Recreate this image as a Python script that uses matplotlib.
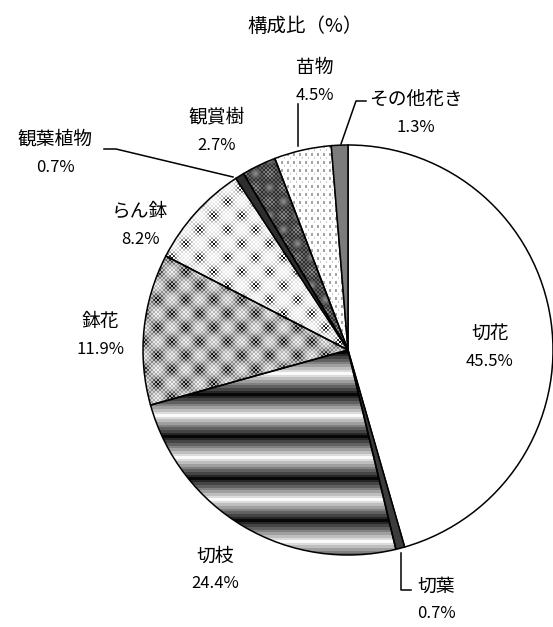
import numpy as np
import matplotlib
matplotlib.use("Agg")
import matplotlib.pyplot as plt

plt.rcParams['font.family'] = ['Noto Sans CJK JP', 'DejaVu Sans']

# data
categories = ['切花', '切葉', '切枝', '鉢花', 'らん鉢', '観葉植物', '観賞樹', '苗物', 'その他花き']
shares = [45.5, 0.7, 24.4, 11.9, 8.2, 0.7, 2.7, 4.5, 1.3]
title = '構成比（%）'

# layout (pixels of the 553x627 picture)
W, H = 553, 627
CX, CY, R = 348, 350, 205

def px(x, y):
    # pixel -> data coords (pie radius = 1)
    return (x - CX) / R, (CY - y) / R

label_pos = {
    '切花': (490, 334), '切葉': (436, 586), '切枝': (215, 556),
    '鉢花': (100, 321), 'らん鉢': (140, 211), '観葉植物': (55, 139),
    '観賞樹': (217, 117), '苗物': (315, 67), 'その他花き': (416, 99),
}
leaders = {
    '切葉': [(401, 553), (401, 590), (411, 590)],
    '観葉植物': [(104, 149), (116, 149), (233, 177)],
    '苗物': [(298, 104), (298, 146)],
    'その他花き': [(366, 101), (356, 101), (341, 144)],
}

# textures, one pixel per output pixel
N = 2 * R
yy, xx = np.mgrid[0:N, 0:N]
chk = ((xx // 2 + yy // 2) % 2).astype(bool)
m = 0.5 + 0.5 * np.cos(2 * np.pi * xx / 28) * np.cos(2 * np.pi * yy / 28)
m2 = 0.5 + 0.5 * np.cos(2 * np.pi * (xx + 14) / 28) * np.cos(2 * np.pi * (yy + 14) / 28)

tri = np.abs((((yy + 24) % 42) / 42.0) * 2 - 1)
stripes = np.round(tri * 8) / 8 * 0.95 + 0.03

hachi = np.where(chk, 0.95 - 0.3 * m2, 0.72 - 0.7 * m ** 2)
ran = np.where(chk, 1.0, 0.93 - 0.8 * m ** 4 - 0.15 * m2)
kanshoju = np.where(chk, 0.55 - 0.35 * m + 0.3 * m2 ** 4, 0.25 - 0.2 * m + 0.5 * m2 ** 4)
nae = np.ones((N, N))
nae[(xx % 6 < 2) & (yy % 8 < 3)] = 0.65
nae[((xx + 3) % 6 < 1) & ((yy + 4) % 8 < 2)] = 0.8

textures = {'切枝': stripes, '鉢花': hachi, 'らん鉢': ran, '観賞樹': kanshoju, '苗物': nae}
solid = {'切花': 'white', '切葉': '#3c3c3c', '観葉植物': '#2e2e2e', 'その他花き': '#7c7c7c'}

fig = plt.figure(figsize=(W / 100, H / 100), dpi=100)
ax = fig.add_axes([0, 0, 1, 1])

colors = [solid.get(c, 'none') for c in categories]
wedges, _ = ax.pie(shares, startangle=90, counterclock=False, radius=1, center=(0, 0),
                   colors=colors, wedgeprops=dict(edgecolor='black', linewidth=1.1))

for w, cat in zip(wedges, categories):
    if cat in textures:
        im = ax.imshow(textures[cat], extent=(-1, 1, -1, 1), cmap='gray', vmin=0, vmax=1,
                       interpolation='nearest', zorder=0.5)
        im.set_clip_path(w)

for cat, pct in zip(categories, shares):
    x, y = px(*label_pos[cat])
    ax.text(x, y, cat, ha='center', va='center', fontsize=13.5)
    ax.text(x, y - 28 / R, f'{pct:.1f}%', ha='center', va='center', fontsize=12)

for cat, pts in leaders.items():
    d = [px(*p) for p in pts]
    ax.plot([p[0] for p in d], [p[1] for p in d], color='black', lw=1.1)

tx, ty = px(305, 27)
ax.text(tx, ty, title, ha='center', va='center', fontsize=14)

ax.set_xlim(-CX / R, (W - CX) / R)
ax.set_ylim(-(H - CY) / R, CY / R)
ax.set_aspect('equal')
ax.axis('off')

fig.savefig('out.png', dpi=100)
